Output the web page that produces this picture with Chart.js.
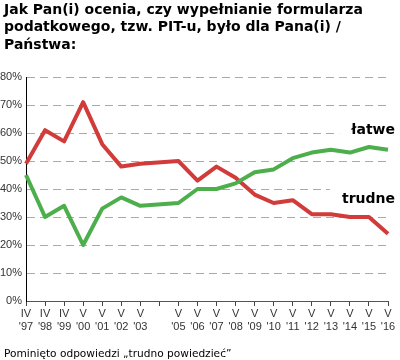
<!DOCTYPE html>
<html><head><meta charset="utf-8">
<script src="https://cdn.jsdelivr.net/npm/chart.js@4/dist/chart.umd.min.js"></script>
<style>html,body{margin:0;padding:0;background:#fff}#wrap{width:400px;height:360px;position:relative}</style>
</head><body><div id="wrap"><canvas id="c" width="400" height="360"></canvas></div>
<script>
const surveyMonths = ['IV','IV','IV','V','V','V','V','','V','V','V','V','V','V','V','V','V','V','V','V'];
const surveyYears = ["'97","'98","'99","'00","'01","'02","'03","","'05","'06","'07","'08","'09","'10","'11","'12","'13","'14","'15","'16"];
const latwe  = [45,30,34,20,33,37,34,null,35,40,40,42,46,47,51,53,54,53,55,54];
const trudne = [49,61,57,71,56,48,49,null,50,43,48,44,38,35,36,31,31,30,30,24];
const yTicks = [0,10,20,30,40,50,60,70,80];
const titleLines = ['Jak Pan(i) ocenia, czy wypełnianie formularza','podatkowego, tzw. PIT-u, było dla Pana(i) /','Państwa:'];
const footerText = 'Pominięto odpowiedzi „trudno powiedzieć”';
const seriesNames = ['łatwe','trudne'];

const labels = surveyMonths.map((m,i)=>[m, surveyYears[i]]);
const RED = '#d13b3a', GREEN = '#4dae4c';
const TICKFONT = '"Liberation Sans", Arial, sans-serif';

const decor = {
  id:'decor',
  beforeDatasetsDraw(chart){
    const ctx = chart.ctx, ca = chart.chartArea;
    ctx.save();
    ctx.font = 'bold 14px "DejaVu Sans"';
    ctx.textBaseline = 'middle';
    ctx.textAlign = 'right';
    const items = [[seriesNames[0],130],[seriesNames[1],199]];
    items.forEach(([t,cy])=>{
      const w = ctx.measureText(t).width;
      const xr = ca.right + 7;
      ctx.fillStyle = '#fff';
      ctx.fillRect(xr - w - 12, cy - 12, w + 12, 22);
      ctx.fillStyle = '#000';
      ctx.fillText(t, xr, cy);
    });
    ctx.restore();
  },
  afterDraw(chart){
    const ctx = chart.ctx;
    ctx.save();
    ctx.fillStyle = '#000';
    ctx.textAlign = 'left';
    ctx.textBaseline = 'alphabetic';
    ctx.font = 'bold 14px "DejaVu Sans"';
    titleLines.forEach((l,i)=>ctx.fillText(l, 4, 14 + i*17.3));
    ctx.font = '10.6px "DejaVu Sans"';
    ctx.fillText(footerText, 4, 357);
    ctx.restore();
  }
};

new Chart(document.getElementById('c'), {
  type:'line',
  data:{labels, datasets:[
    {label:seriesNames[0], data:latwe, borderColor:GREEN, borderWidth:4, pointRadius:0, spanGaps:true, tension:0, borderJoinStyle:'round', borderCapStyle:'butt'},
    {label:seriesNames[1], data:trudne, borderColor:RED, borderWidth:4, pointRadius:0, spanGaps:true, tension:0, borderJoinStyle:'round', borderCapStyle:'butt'}
  ]},
  options:{
    responsive:false, animation:false, devicePixelRatio:1,
    layout:{padding:{top:77, left:0, right:12, bottom:19}},
    plugins:{legend:{display:false}, title:{display:false}, tooltip:{enabled:false}},
    scales:{
      x:{
        offset:false,
        grid:{display:true, drawOnChartArea:false, drawTicks:true, tickLength:5, color:'#444'},
        border:{display:true, color:'#555', width:1},
        ticks:{autoSkip:false, maxRotation:0, padding:2, color:'#333', font:{family:TICKFONT, size:11, lineHeight:1.15}},
        afterFit(s){ s.height = 40; }
      },
      y:{
        min:0, max:80,
        afterBuildTicks(s){ s.ticks = yTicks.map(v=>({value:v})); },
        grid:{display:true, drawTicks:false, color:'#aaa', lineWidth:1},
        border:{display:true, color:'#000', width:1, dash:[8,5]},
        ticks:{padding:4, color:'#333', callback:v=>v+'%', font:{family:TICKFONT, size:11}},
        afterFit(s){ s.width = 26; }
      }
    }
  },
  plugins:[decor]
});
</script></body></html>
